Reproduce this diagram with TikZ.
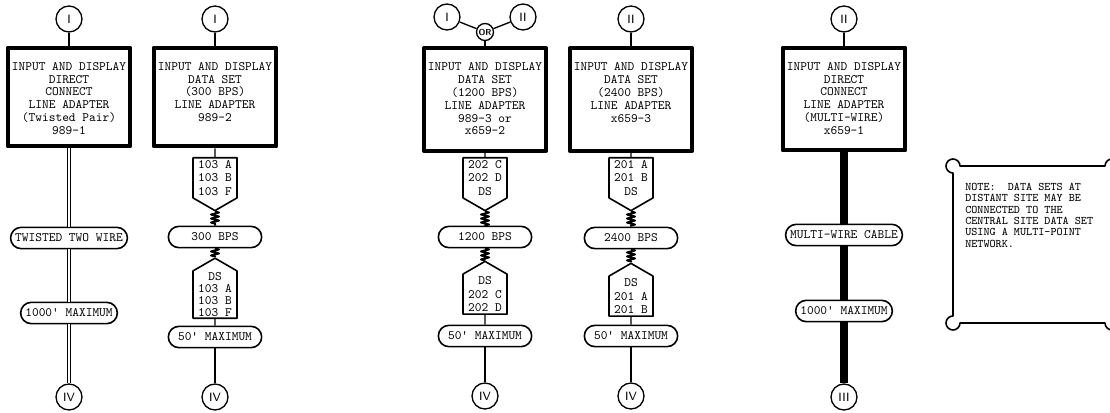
\documentclass[tikz,border=0pt]{standalone}
\usetikzlibrary{shapes.symbols,decorations.pathmorphing}

\newcommand{\unitlines}[2]{\parbox[t][#1][t]{88pt}{\centering\rule{0pt}{13pt}#2}}

\begin{document}
\begin{tikzpicture}[x=0.75pt,y=-0.75pt,line join=round]
  \tikzstyle{unit}=[draw,line width=3pt,minimum width=92pt,inner xsep=2pt,inner ysep=4pt,font=\ttfamily\fontsize{9.6}{9.6}\selectfont]
  \tikzstyle{term}=[draw,line width=1pt,circle,minimum size=19.5pt,inner sep=0pt,font=\sffamily\small]
  \tikzstyle{orbox}=[draw,line width=1pt,circle,minimum size=12.75pt,inner sep=0pt,font=\sffamily\bfseries\fontsize{6.5}{7}\selectfont]
  \tikzstyle{pill}=[draw,line width=1.2pt,rounded corners=8pt,minimum height=16pt,minimum width=70pt,inner xsep=3.5pt,font=\ttfamily\fontsize{9.6}{9.6}\selectfont]
  \tikzstyle{dsdown}=[draw,line width=1.2pt,signal,signal to=south,signal from=nowhere,signal pointer angle=120,minimum width=33pt,inner xsep=2pt,inner ysep=2pt,align=center,font=\ttfamily\fontsize{9.6}{10}\selectfont]
  \tikzstyle{dsup}=[dsdown,signal to=north]
  \tikzstyle{wire}=[line width=1pt]
  \tikzstyle{pair}=[double,double distance=1.2pt,line width=0.9pt]
  \tikzstyle{cable}=[line width=5.5pt]
  \tikzstyle{spring}=[line width=1.5pt,decorate,decoration={zigzag,segment length=3pt,amplitude=3pt}]
  \useasboundingbox (0,0) rectangle (1110,413);

  % twisted pair
  \node[term] (i1) at (69,19) {I};
  \node[unit] (dc1) at (69,97) {\unitlines{66pt}{INPUT AND DISPLAY\\DIRECT\\CONNECT\\LINE ADAPTER\\(Twisted Pair)\\989-1}};
  \node[pill] (tw1) at (69,238) {TWISTED TWO WIRE};
  \node[pill] (max1) at (69,313) {1000' MAXIMUM};
  \node[term] (iv1) at (69,397) {IV};
  \draw[wire] (i1) -- (dc1);
  \draw[pair] (dc1) -- (tw1);
  \draw[pair] (tw1) -- (max1);
  \draw[pair] (max1) -- (iv1);

  % 300 bps
  \node[term] (i2) at (215,19) {I};
  \node[unit] (ds2) at (215,97) {\unitlines{66pt}{INPUT AND DISPLAY\\DATA SET\\(300 BPS)\\LINE ADAPTER\\989-2}};
  \node[dsdown,anchor=north] (m2a) at (215,157) {103 A\\103 B\\103 F};
  \node[pill] (bps2) at (215,237) {300 BPS};
  \node[dsup,anchor=south,inner ysep=1.5pt,font=\ttfamily\fontsize{9.6}{8.8}\selectfont] (m2b) at (215,319) {DS\\103 A\\103 B\\103 F};
  \node[pill] (max2) at (215,337) {50' MAXIMUM};
  \node[term] (iv2) at (215,397) {IV};
  \draw[wire] (i2) -- (ds2);
  \draw[wire] (ds2) -- (m2a);
  \draw[spring] (m2a.south) -- (bps2.north);
  \draw[spring] (bps2.south) -- (m2b.north);
  \draw[wire] (m2b) -- (max2);
  \draw[wire] (max2) -- (iv2);

  % 1200 bps
  \node[term] (i3) at (447,17) {I};
  \node[term] (ii3) at (523,17) {II};
  \node[orbox] (or3) at (485,32) {OR};
  \node[unit] (ds3) at (485,99.5) {\unitlines{69pt}{INPUT AND DISPLAY\\DATA SET\\(1200 BPS)\\LINE ADAPTER\\989-3 or\\x659-2}};
  \node[dsdown,anchor=north] (m3a) at (485,157) {202 C\\202 D\\DS};
  \node[pill] (bps3) at (485,237) {1200 BPS};
  \node[dsup,anchor=south] (m3b) at (485,315) {DS\\202 C\\202 D};
  \node[pill] (max3) at (485,336) {50' MAXIMUM};
  \node[term] (iv3) at (485,396) {IV};
  \draw[wire] (i3) -- (or3);
  \draw[wire] (or3) -- (ii3);
  \draw[wire] (or3) -- (ds3);
  \draw[wire] (ds3) -- (m3a);
  \draw[spring] (m3a.south) -- (bps3.north);
  \draw[spring] (bps3.south) -- (m3b.north);
  \draw[wire] (m3b) -- (max3);
  \draw[wire] (max3) -- (iv3);

  % 2400 bps
  \node[term] (ii4) at (631,19) {II};
  \node[unit] (ds4) at (631,99.5) {\unitlines{69pt}{INPUT AND DISPLAY\\DATA SET\\(2400 BPS)\\LINE ADAPTER\\x659-3}};
  \node[dsdown,anchor=north] (m4a) at (631,157) {201 A\\201 B\\DS};
  \node[pill] (bps4) at (631,238) {2400 BPS};
  \node[dsup,anchor=south] (m4b) at (631,317) {DS\\201 A\\201 B};
  \node[pill] (max4) at (631,336) {50' MAXIMUM};
  \node[term] (iv4) at (631,396) {IV};
  \draw[wire] (ii4) -- (ds4);
  \draw[wire] (ds4) -- (m4a);
  \draw[spring] (m4a.south) -- (bps4.north);
  \draw[spring] (bps4.south) -- (m4b.north);
  \draw[wire] (m4b) -- (max4);
  \draw[wire] (max4) -- (iv4);

  % multi-wire
  \node[term] (ii5) at (844,19) {II};
  \node[unit] (dc5) at (844,99) {\unitlines{69pt}{INPUT AND DISPLAY\\DIRECT\\CONNECT\\LINE ADAPTER\\(MULTI-WIRE)\\x659-1}};
  \node[pill] (mw5) at (844,235) {MULTI-WIRE CABLE};
  \node[pill] (max5) at (844,311) {1000' MAXIMUM};
  \node[term] (iii5) at (844,397) {III};
  \draw[wire] (ii5) -- (dc5);
  \draw[cable] (dc5) -- (mw5);
  \draw[cable] (mw5) -- (max5);
  \draw[cable] (max5) -- (iii5);

  % note
  \draw[line width=1.2pt] (1112,159) arc (270:180:7) -- (960,166) arc (360:90:7)
    -- (953,316) arc (270:0:7) -- (1105,323) arc (180:90:7);
  \node[anchor=north west,inner sep=0pt,align=left,font=\ttfamily\fontsize{8.7}{8.5}\selectfont] (note) at (965,183)
    {NOTE:\ \ DATA SETS AT\\DISTANT SITE MAY BE\\CONNECTED TO THE\\CENTRAL SITE DATA SET\\USING A MULTI-POINT\\NETWORK.};
\end{tikzpicture}
\end{document}
